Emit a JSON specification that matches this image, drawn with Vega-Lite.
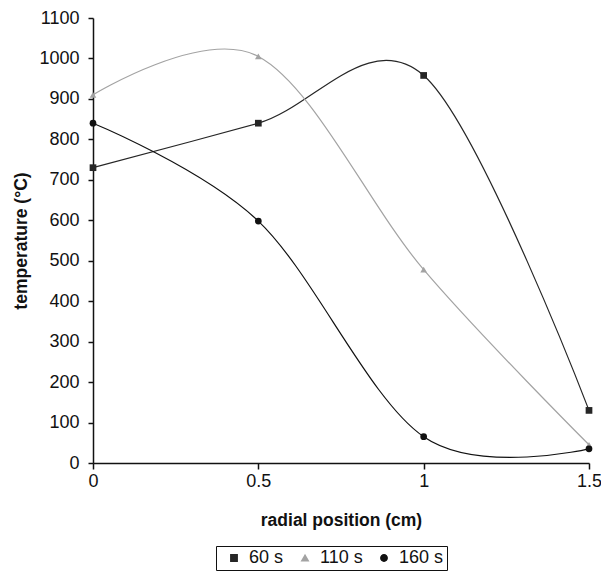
{
  "$schema": "https://vega.github.io/schema/vega-lite/v6.json",
  "width": 496,
  "height": 445,
  "autosize": {"type": "none"},
  "padding": {"left": 93, "top": 18, "right": 12, "bottom": 112},
  "background": "white",
  "config": {
    "view": {"stroke": null},
    "font": "Liberation Sans"
  },
  "data": {
    "values": [
      {"r": 0, "T": 730, "series": "60 s"},
      {"r": 0.5, "T": 840, "series": "60 s"},
      {"r": 1, "T": 958, "series": "60 s"},
      {"r": 1.5, "T": 130, "series": "60 s"},
      {"r": 0, "T": 910, "series": "110 s"},
      {"r": 0.5, "T": 1005, "series": "110 s"},
      {"r": 1, "T": 478, "series": "110 s"},
      {"r": 1.5, "T": 45, "series": "110 s"},
      {"r": 0, "T": 840, "series": "160 s"},
      {"r": 0.5, "T": 598, "series": "160 s"},
      {"r": 1, "T": 65, "series": "160 s"},
      {"r": 1.5, "T": 35, "series": "160 s"}
    ]
  },
  "encoding": {
    "x": {
      "field": "r",
      "type": "quantitative",
      "scale": {"domain": [0, 1.5], "nice": false, "zero": false},
      "axis": {
        "values": [0, 0.5, 1, 1.5],
        "format": "~g",
        "grid": false,
        "domainColor": "#111",
        "domainWidth": 1.5,
        "tickColor": "#111",
        "tickWidth": 1.5,
        "tickSize": 6,
        "labelFontSize": 18,
        "labelColor": "#111",
        "labelPadding": 3,
        "labelFlush": false,
        "title": "radial position (cm)",
        "titleFontSize": 17.5,
        "titleFontWeight": "bold",
        "titleColor": "#111",
        "titleBaseline": "alphabetic",
        "titleX": 248,
        "titleY": 62
      }
    },
    "y": {
      "field": "T",
      "type": "quantitative",
      "scale": {"domain": [0, 1100], "nice": false},
      "axis": {
        "values": [0, 100, 200, 300, 400, 500, 600, 700, 800, 900, 1000, 1100],
        "format": "d",
        "grid": false,
        "domainColor": "#111",
        "domainWidth": 1.5,
        "tickColor": "#111",
        "tickWidth": 1.5,
        "tickSize": 5,
        "labelFontSize": 18,
        "labelColor": "#111",
        "labelPadding": 9,
        "labelFlush": false,
        "title": "temperature (°C)",
        "titleFontSize": 17.5,
        "titleFontWeight": "bold",
        "titleColor": "#111",
        "titleAngle": -90,
        "titleAlign": "center",
        "titleBaseline": "alphabetic",
        "titleX": -67,
        "titleY": 222.5
      }
    },
    "color": {
      "field": "series",
      "type": "nominal",
      "scale": {"domain": ["60 s", "110 s", "160 s"], "range": ["#262626", "#a3a3a3", "#111111"]},
      "legend": {
        "orient": "none",
        "legendX": 123,
        "legendY": 528,
        "direction": "horizontal",
        "title": null,
        "labelFontSize": 18,
        "labelColor": "#111",
        "symbolSize": 40,
        "symbolOffset": 6,
        "labelOffset": 6,
        "columnPadding": 6,
        "padding": 3,
        "strokeColor": "#111"
      }
    }
  },
  "layer": [
    {
      "mark": {"type": "line", "interpolate": "cardinal", "strokeWidth": 1.2}
    },
    {
      "mark": {"type": "point", "filled": true, "opacity": 1, "size": 45},
      "encoding": {
        "shape": {
          "field": "series",
          "type": "nominal",
          "scale": {"domain": ["60 s", "110 s", "160 s"], "range": ["square", "triangle-up", "circle"]},
          "legend": null
        }
      }
    }
  ]
}
